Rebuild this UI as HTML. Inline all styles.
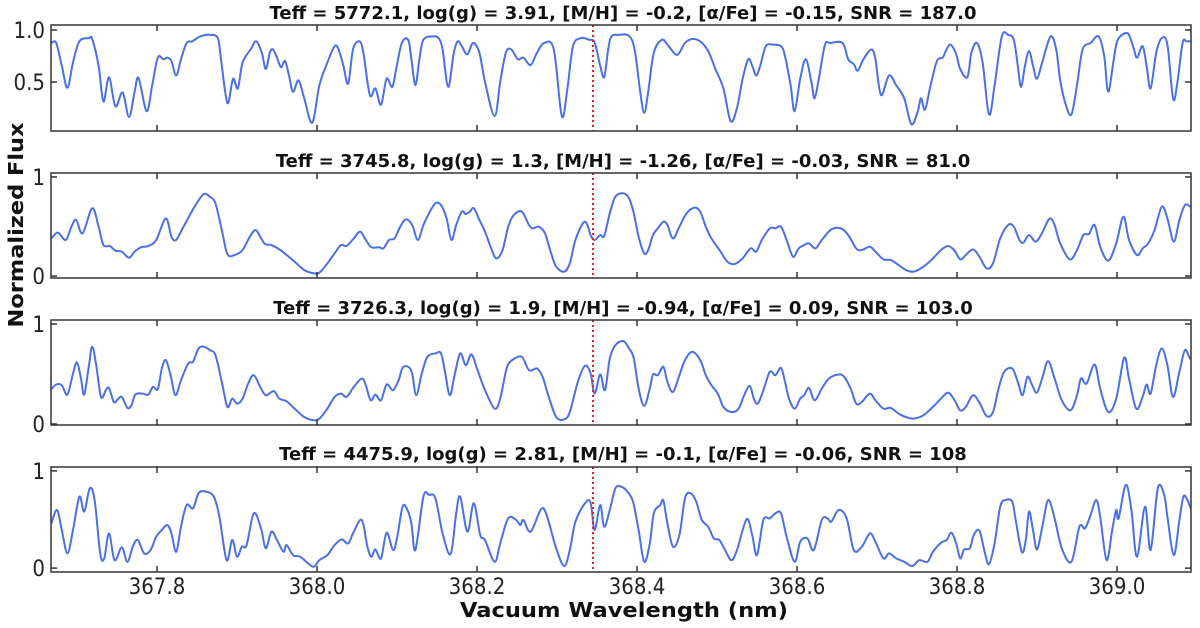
<!DOCTYPE html>
<html><head><meta charset="utf-8"><style>
html,body{margin:0;padding:0;background:#fff;}
svg{display:block;}
text{font-family:"DejaVu Sans","Liberation Sans",sans-serif;}
.tk{font-family:"DejaVu Sans Condensed","DejaVu Sans","Liberation Sans Narrow",sans-serif;font-size:22px;fill:#222;}
.tt{font-weight:bold;font-size:18px;fill:#111;}
</style></head><body>
<svg id="chart" width="1200" height="628" viewBox="0 0 1200 628" xmlns="http://www.w3.org/2000/svg"></svg>
<script>
const xTicks=[367.8,368.0,368.2,368.4,368.6,368.8,369.0];
const xTickLabels=["367.8","368.0","368.2","368.4","368.6","368.8","369.0"];
const markerWl=368.345;
const titles=[
"Teff = 5772.1, log(g) = 3.91, [M/H] = -0.2, [\u03b1/Fe] = -0.15, SNR = 187.0",
"Teff = 3745.8, log(g) = 1.3, [M/H] = -1.26, [\u03b1/Fe] = -0.03, SNR = 81.0",
"Teff = 3726.3, log(g) = 1.9, [M/H] = -0.94, [\u03b1/Fe] = 0.09, SNR = 103.0",
"Teff = 4475.9, log(g) = 2.81, [M/H] = -0.1, [\u03b1/Fe] = -0.06, SNR = 108"];
const yTicks1=[0.5,1.0], yTickLabels1=["0.5","1.0"];
const yTicksN=[0,1], yTickLabelsN=["0","1"];

const wl1=[367.668,367.674,367.681,367.688,367.695,367.703,367.715,367.719,367.727,367.733,367.740,367.748,367.757,367.765,367.772,367.777,367.787,367.794,367.801,367.808,367.813,367.818,367.824,367.830,367.837,367.844,367.854,367.866,367.876,367.880,367.888,367.895,367.901,367.907,367.917,367.924,367.931,367.936,367.941,367.945,367.950,367.955,367.960,367.965,367.970,367.977,367.984,367.994,368.003,368.013,368.022,368.027,368.033,368.039,368.045,368.053,368.058,368.066,368.073,368.080,368.087,368.094,368.099,368.106,368.114,368.118,368.123,368.128,368.133,368.145,368.152,368.157,368.164,368.171,368.176,368.181,368.188,368.195,368.203,368.210,368.222,368.229,368.236,368.243,368.251,368.258,368.267,368.275,368.284,368.296,368.306,368.313,368.320,368.330,368.340,368.347,
368.354,368.359,368.364,368.368,368.378,368.390,368.397,368.404,368.409,368.414,368.421,368.431,368.438,368.448,368.453,368.460,368.469,368.479,368.489,368.498,368.508,368.517,368.525,368.532,368.539,368.544,368.549,368.554,368.561,368.570,368.580,368.585,368.592,368.597,368.604,368.611,368.618,368.622,368.628,368.635,368.642,368.657,368.664,368.671,368.676,368.683,368.693,368.698,368.705,368.715,368.724,368.734,368.743,368.751,368.755,368.760,368.767,368.775,368.782,368.787,368.792,368.799,368.804,368.813,368.818,368.825,368.832,368.840,368.847,368.856,368.864,368.871,368.876,368.880,368.885,368.890,368.895,368.900,368.907,368.917,368.924,368.929,368.936,368.943,368.950,368.957,368.967,368.977,368.984,368.989,368.996,369.001,369.013,369.020,369.025,369.032,369.037,369.042,369.049,369.056,369.063,369.070,369.075,369.082,369.087,369.097];
const flux1=[.875,.875,.656,.444,.688,.891,.922,.913,.656,.313,.547,.266,.400,.163,.406,.538,.219,.469,.734,.719,.734,.703,.563,.719,.875,.891,.938,.953,.922,.719,.297,.531,.438,.688,.813,.891,.781,.625,.781,.813,.734,.641,.703,.563,.406,.516,.344,.109,.469,.688,.844,.813,.656,.484,.813,.891,.781,.375,.438,.281,.531,.453,.625,.875,.906,.719,.469,.719,.906,.938,.922,.813,.453,.781,.891,.844,.766,.875,.781,.500,.172,.500,.781,.813,.719,.734,.663,.781,.875,.813,.172,.438,.844,.922,.906,.881,
.656,.547,.813,.938,.953,.944,.813,.406,.203,.406,.781,.906,.859,.766,.781,.875,.913,.891,.797,.625,.438,.125,.250,.531,.719,.656,.563,.656,.844,.859,.844,.750,.469,.219,.531,.719,.500,.344,.563,.859,.875,.875,.719,.672,.609,.719,.813,.719,.375,.563,.469,.344,.094,.219,.344,.234,.469,.703,.734,.813,.859,.766,.625,.547,.781,.875,.688,.188,.469,.938,.953,.906,.656,.453,.656,.797,.656,.531,.703,.938,.813,.516,.281,.188,.469,.813,.875,.938,.750,.406,.719,.906,.969,.844,.734,.844,.656,.438,.781,.922,.859,.344,.469,.875,.891,.891];

const wl2=[367.668,367.676,367.686,367.693,367.699,367.707,367.719,367.727,367.733,367.741,367.748,367.756,367.765,367.772,367.780,367.789,367.799,367.811,367.818,367.824,367.832,367.840,367.847,367.858,367.866,367.873,367.881,367.888,367.897,367.907,367.916,367.923,367.929,367.935,367.943,367.953,367.962,367.972,367.984,367.996,368.003,368.013,368.022,368.030,368.037,368.046,368.054,368.061,368.068,368.078,368.083,368.090,368.097,368.104,368.111,368.119,368.126,368.133,368.140,368.148,368.155,368.162,368.168,368.174,368.181,368.186,368.191,368.196,368.203,368.210,368.217,368.224,368.232,368.239,368.246,368.256,368.265,368.270,368.277,368.285,368.292,368.299,368.309,368.316,368.323,368.333,368.338,368.342,368.347,368.354,
368.359,368.366,368.373,368.383,368.390,368.396,368.402,368.409,368.414,368.420,368.426,368.433,368.438,368.445,368.453,368.462,368.472,368.479,368.486,368.493,368.503,368.513,368.522,368.532,368.542,368.549,368.556,368.566,368.573,368.580,368.587,368.595,368.602,368.609,368.615,368.623,368.631,368.643,368.655,368.664,368.674,368.681,368.691,368.698,368.708,368.717,368.727,368.736,368.746,368.758,368.770,368.780,368.789,368.797,368.804,368.811,368.820,368.828,368.837,368.845,368.854,368.864,368.871,368.878,368.883,368.890,368.898,368.905,368.912,368.917,368.922,368.929,368.941,368.950,368.958,368.965,368.972,368.979,368.989,368.999,369.008,369.015,369.025,369.032,369.039,369.047,369.056,369.063,369.071,369.078,369.085,369.092,369.100];
const flux2=[.380,.438,.364,.498,.566,.431,.684,.498,.313,.303,.256,.246,.185,.246,.290,.303,.364,.582,.397,.364,.481,.599,.700,.825,.801,.734,.465,.222,.212,.263,.397,.465,.397,.323,.313,.269,.212,.145,.061,.027,.034,.128,.229,.313,.303,.380,.448,.364,.290,.290,.279,.364,.380,.498,.572,.515,.364,.515,.633,.734,.717,.582,.364,.515,.650,.626,.650,.684,.566,.448,.296,.178,.263,.498,.616,.650,.515,.481,.498,.431,.246,.094,.044,.128,.364,.539,.515,.414,.364,.414,
.404,.633,.801,.835,.785,.633,.397,.229,.263,.414,.481,.549,.515,.380,.498,.633,.690,.650,.498,.380,.263,.145,.121,.178,.279,.246,.364,.481,.481,.498,.364,.195,.279,.313,.330,.279,.364,.471,.481,.414,.279,.263,.296,.246,.168,.162,.111,.061,.044,.094,.178,.263,.303,.256,.168,.212,.269,.195,.077,.128,.380,.515,.498,.364,.337,.414,.347,.414,.532,.582,.515,.330,.168,.263,.414,.424,.515,.296,.155,.330,.599,.364,.212,.279,.330,.465,.700,.582,.347,.566,.717,.700,.690];

const wl3=[367.668,367.674,367.681,367.688,367.695,367.700,367.705,367.709,367.715,367.719,367.724,367.730,367.736,367.740,367.746,367.751,367.756,367.763,367.768,367.773,367.782,367.789,367.795,367.801,367.806,367.811,367.817,367.823,367.830,367.839,367.845,367.852,367.859,367.866,367.873,367.881,367.888,367.894,367.900,367.907,367.914,367.921,367.929,367.936,367.946,367.953,367.962,367.972,367.984,367.996,368.003,368.013,368.022,368.030,368.037,368.046,368.056,368.061,368.067,368.073,368.080,368.087,368.095,368.102,368.107,368.114,368.119,368.124,368.131,368.138,368.148,368.155,368.160,368.166,368.172,368.179,368.186,368.193,368.200,368.210,368.222,368.229,368.237,368.244,368.256,368.265,368.275,368.282,368.289,368.299,368.309,368.316,368.326,368.335,368.342,368.347,368.354,
368.360,368.366,368.373,368.383,368.390,368.396,368.402,368.409,368.416,368.420,368.426,368.433,368.438,368.445,368.453,368.460,368.469,368.479,368.486,368.493,368.501,368.508,368.518,368.527,368.534,368.541,368.546,368.551,368.558,368.566,368.573,368.580,368.585,368.590,368.597,368.604,368.609,368.615,368.622,368.631,368.640,368.652,368.659,368.667,368.674,368.681,368.691,368.698,368.708,368.717,368.727,368.736,368.746,368.758,368.770,368.780,368.789,368.797,368.804,368.811,368.820,368.828,368.837,368.845,368.852,368.859,368.869,368.876,368.882,368.888,368.894,368.900,368.907,368.914,368.922,368.931,368.942,368.950,368.955,368.962,368.972,368.979,368.989,368.999,369.009,369.015,369.024,369.032,369.037,369.042,369.049,369.056,369.063,369.070,369.078,369.085,369.092,369.100];
const flux3=[.348,.395,.388,.294,.505,.615,.455,.294,.589,.773,.589,.271,.338,.361,.221,.247,.271,.161,.187,.294,.304,.294,.371,.348,.555,.639,.488,.288,.438,.605,.622,.756,.773,.739,.689,.421,.171,.254,.204,.254,.405,.488,.371,.288,.328,.254,.227,.154,.070,.037,.054,.154,.271,.304,.271,.371,.455,.388,.237,.294,.237,.395,.338,.438,.562,.572,.505,.288,.505,.672,.706,.706,.522,.288,.488,.706,.589,.696,.555,.338,.154,.254,.555,.639,.672,.538,.555,.472,.288,.070,.047,.120,.421,.582,.505,.304,.495,
.338,.656,.789,.829,.756,.656,.355,.181,.355,.495,.488,.572,.421,.321,.488,.639,.722,.639,.488,.388,.304,.171,.120,.154,.288,.381,.254,.204,.338,.522,.488,.562,.421,.254,.154,.254,.288,.361,.237,.355,.455,.495,.472,.355,.204,.221,.304,.237,.154,.161,.104,.070,.054,.087,.171,.254,.314,.237,.137,.171,.288,.214,.080,.120,.355,.522,.555,.421,.288,.472,.388,.314,.472,.629,.455,.237,.137,.288,.455,.405,.595,.355,.120,.254,.662,.455,.154,.271,.395,.304,.589,.756,.589,.271,.522,.739,.649,.689];

const wl4=[367.668,367.675,367.681,367.688,367.695,367.703,367.709,367.716,367.722,367.729,367.734,367.740,367.747,367.756,367.763,367.770,367.776,367.784,367.792,367.799,367.806,367.813,367.818,367.824,367.830,367.837,367.845,367.852,367.861,367.871,367.878,367.887,367.894,367.900,367.906,367.912,367.921,367.930,367.936,367.943,367.950,367.958,367.962,367.970,367.979,367.989,367.996,368.003,368.013,368.022,368.031,368.039,368.046,368.056,368.063,368.068,368.073,368.080,368.087,368.095,368.100,368.107,368.113,368.118,368.123,368.133,368.140,368.148,368.157,368.167,368.174,368.179,368.188,368.196,368.204,368.210,368.222,368.229,368.239,368.249,368.254,368.258,368.267,368.280,368.287,368.299,368.309,368.316,368.323,368.335,368.342,368.347,368.354,
368.359,368.366,368.373,368.380,368.388,368.395,368.402,368.409,368.416,368.421,368.429,368.433,368.438,368.445,368.453,368.460,368.467,368.474,368.481,368.489,368.496,368.503,368.510,368.518,368.525,368.537,368.544,368.550,368.558,368.566,368.573,368.580,368.587,368.597,368.604,368.613,368.621,368.631,368.638,368.643,368.652,368.662,368.671,368.681,368.691,368.698,368.708,368.715,368.724,368.734,368.744,368.753,368.763,368.770,368.780,368.787,368.793,368.799,368.804,368.809,368.816,368.821,368.828,368.835,368.840,368.847,368.854,368.861,368.869,368.873,368.881,368.886,368.890,368.895,368.900,368.907,368.914,368.922,368.931,368.943,368.953,368.960,368.967,368.974,368.979,368.987,368.994,368.999,369.002,369.011,369.018,369.025,369.035,369.042,369.051,369.059,369.063,369.071,369.078,369.083,369.088,369.095,369.100];
const flux4=[.460,.598,.392,.151,.392,.735,.581,.821,.701,.151,.100,.357,.082,.213,.065,.227,.289,.151,.186,.323,.392,.443,.357,.168,.426,.649,.615,.770,.787,.735,.529,.082,.289,.117,.220,.237,.564,.409,.203,.375,.289,.168,.237,.134,.117,.048,.014,.082,.134,.237,.296,.254,.375,.495,.220,.117,.192,.100,.364,.186,.306,.632,.598,.460,.186,.735,.753,.718,.357,.144,.564,.735,.375,.667,.340,.289,.065,.254,.512,.495,.443,.495,.375,.605,.546,.203,.021,.186,.478,.667,.674,.392,.649,
.426,.598,.821,.838,.787,.684,.392,.065,.254,.564,.649,.694,.460,.220,.340,.718,.770,.684,.495,.426,.306,.289,.186,.082,.186,.502,.340,.134,.495,.512,.564,.564,.323,.065,.271,.306,.186,.495,.512,.478,.598,.512,.186,.220,.357,.271,.100,.151,.100,.065,.021,.082,.065,.168,.261,.289,.364,.254,.100,.192,.203,.340,.385,.151,.041,.254,.632,.701,.684,.512,.168,.289,.581,.392,.192,.443,.701,.512,.203,.065,.426,.409,.546,.701,.529,.082,.392,.598,.512,.856,.598,.117,.632,.186,.821,.753,.529,.134,.495,.735,.701,.581,.735];

const xMin=367.6675, xMax=369.0925, pxL=51, pxR=1191;
const panels=[
 {top:25,bottom:131,yLo:0.029,yHi:1.048,wl:wl1,fl:flux1,ticks:yTicks1,labels:yTickLabels1,title:titles[0],ty:19},
 {top:173,bottom:278,yLo:-0.02,yHi:1.04,wl:wl2,fl:flux2,ticks:yTicksN,labels:yTickLabelsN,title:titles[1],ty:167},
 {top:320,bottom:425,yLo:-0.01,yHi:1.04,wl:wl3,fl:flux3,ticks:yTicksN,labels:yTickLabelsN,title:titles[2],ty:314},
 {top:467,bottom:572,yLo:-0.04,yHi:1.04,wl:wl4,fl:flux4,ticks:yTicksN,labels:yTickLabelsN,title:titles[3],ty:460}];
const NS='http://www.w3.org/2000/svg';
const svg=document.getElementById('chart');
function X(w){return pxL+(w-xMin)/(xMax-xMin)*(pxR-pxL);}
function mk(tag,attrs,parent){const e=document.createElementNS(NS,tag);for(const k in attrs)e.setAttribute(k,attrs[k]);(parent||svg).appendChild(e);return e;}
function smooth(pts){let d='M'+pts[0][0].toFixed(2)+','+pts[0][1].toFixed(2);
 for(let i=0;i<pts.length-1;i++){const p0=pts[Math.max(0,i-1)],p1=pts[i],p2=pts[i+1],p3=pts[Math.min(pts.length-1,i+2)];
  const c1x=p1[0]+(p2[0]-p0[0])/6,c1y=p1[1]+(p2[1]-p0[1])/6,c2x=p2[0]-(p3[0]-p1[0])/6,c2y=p2[1]-(p3[1]-p1[1])/6;
  d+=' C'+c1x.toFixed(2)+','+c1y.toFixed(2)+' '+c2x.toFixed(2)+','+c2y.toFixed(2)+' '+p2[0].toFixed(2)+','+p2[1].toFixed(2);}
 return d;}
const defs=mk('defs',{});
panels.forEach((p,i)=>{
 const Y=f=>p.bottom-(f-p.yLo)/(p.yHi-p.yLo)*(p.bottom-p.top);
 const g=mk('g',{});
 
 
 const cp=mk('clipPath',{id:'cp'+i},defs);
 mk('rect',{x:pxL,y:p.top,width:pxR-pxL,height:p.bottom-p.top},cp);
 const pts=p.wl.map((w,k)=>[X(w),Y(p.fl[k])]);
 const path=mk('path',{d:smooth(pts),fill:'none',stroke:'#4a70e2','stroke-width':2,'clip-path':'url(#cp'+i+')','stroke-linejoin':'round'},g);
 
 
 const ml=mk('line',{x1:X(markerWl),x2:X(markerWl),y1:p.top,y2:p.bottom,stroke:'#ee1c1c','stroke-width':2,'stroke-dasharray':'2,3'},g);
 
 
 const fr=mk('rect',{x:pxL,y:p.top,width:pxR-pxL,height:p.bottom-p.top,fill:'none',stroke:'#333','stroke-width':1.5},g);
 
 
 xTicks.forEach((t,k)=>{const x=X(t);
  mk('line',{x1:x,x2:x,y1:p.bottom,y2:p.bottom-6,stroke:'#333','stroke-width':1.5},g);
  mk('line',{x1:x,x2:x,y1:p.top,y2:p.top+6,stroke:'#333','stroke-width':1.5},g);
  if(i===3){const tl=mk('text',{x:x,y:p.bottom+22,'text-anchor':'middle',class:'tk'},g);tl.textContent=xTickLabels[k];
   
   }
 });
 p.ticks.forEach((t,k)=>{const y=Y(t);
  mk('line',{x1:pxL,x2:pxL+6,y1:y,y2:y,stroke:'#333','stroke-width':1.5},g);
  mk('line',{x1:pxR,x2:pxR-6,y1:y,y2:y,stroke:'#333','stroke-width':1.5},g);
  const tl=mk('text',{x:pxL-6,y:y+8,'text-anchor':'end',class:'tk'},g);tl.textContent=p.labels[k];
  
  
 });
 const tt=mk('text',{x:623,y:p.ty,'text-anchor':'middle',class:'tt'},g);tt.textContent=p.title;
 
 
});
const xl=mk('text',{x:624,y:617,'text-anchor':'middle','font-weight':'bold','font-size':'20px',fill:'#111',textLength:328,lengthAdjust:'spacingAndGlyphs'});
xl.textContent='Vacuum Wavelength (nm)';


const yl=mk('text',{x:0,y:0,'text-anchor':'middle','font-weight':'bold','font-size':'20px',fill:'#111',transform:'translate(23,225) rotate(-90)',textLength:205,lengthAdjust:'spacingAndGlyphs'});
yl.textContent='Normalized Flux';


</script>
</body></html>
